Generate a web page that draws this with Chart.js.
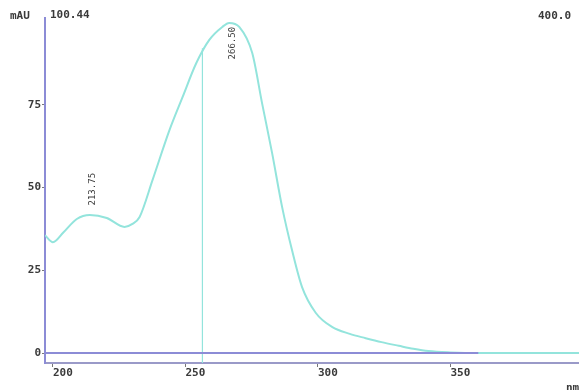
<!DOCTYPE html>
<html>
<head>
<meta charset="utf-8">
<script src="https://cdn.jsdelivr.net/npm/chart.js@4.4.1/dist/chart.umd.min.js"></script>
<style>
  html, body { margin: 0; padding: 0; background: #fff; }
  #wrap { width: 579px; height: 390px; }
</style>
</head>
<body>
<div id="wrap"><canvas id="grafica" width="579" height="390"></canvas></div>
<script>
// espectro UV (nm vs mAU)
const longitudes = [197, 200, 204, 209, 213.9, 220.3, 227, 230, 232.7, 237.6, 244, 248.9, 254.1, 259, 263.9, 266.5, 270.3, 275.2, 278.9, 282.7, 286.5, 290.2, 294, 299.2, 305.3, 312, 318, 324, 330.5, 336, 341.7, 350, 360.5, 380, 398.5];
const absorbancia = [35.6, 33.5, 36.5, 40.5, 41.7, 40.8, 38.1, 39, 41.1, 52.3, 67.4, 77.3, 87.6, 94.6, 98.5, 99.7, 98.5, 90.6, 75.5, 60.4, 44, 31.1, 19.9, 12.1, 7.9, 5.8, 4.5, 3.3, 2.2, 1.3, 0.6, 0.2, 0, 0, 0];

const linea_x = [256.4, 256.4];
const linea_y = [-3, 92.1];

const base_x = [197, 360.5];
const base_y = [0, 0];

const ticksX = [200, 250, 300, 350];
const ticksY = [0, 25, 50, 75];

// nm del pico, texto, y valor donde empieza la etiqueta (arriba)
const picos_nm = [213.75, 266.5];
const picos_texto = ["213.75", "266.50"];
const picos_tope = [54.4, 98.5];

const fuente = "bold 11px 'DejaVu Sans Mono'";
const colorTexto = "#3a3a3a";
const colorEje = "#8c8cd6";
const colorCurva = "#93e4dc";

function puntos(xs, ys) {
  return xs.map((x, i) => ({ x: x, y: ys[i] }));
}

const textosExtra = {
  id: "textosExtra",
  afterDraw(chart) {
    const ctx = chart.ctx;
    const sx = chart.scales.x;
    const sy = chart.scales.y;
    ctx.save();
    ctx.font = fuente;
    ctx.fillStyle = colorTexto;
    ctx.textBaseline = "middle";
    ctx.textAlign = "left";
    ctx.fillText("mAU", 10, 16);
    ctx.fillText("100.44", 50, 15);
    ctx.fillText("400.0", 538, 16);
    ctx.fillText("nm", 566, 388);

    // etiquetas de picos, giradas
    ctx.font = "9px 'DejaVu Sans Mono'";
    picos_nm.forEach((nm, i) => {
      const px = sx.getPixelForValue(nm);
      const py = sy.getPixelForValue(picos_tope[i]);
      ctx.save();
      ctx.translate(px + 3, py);
      ctx.rotate(-Math.PI / 2);
      ctx.textAlign = "right";
      ctx.textBaseline = "middle";
      ctx.fillText(picos_texto[i], 0, 0);
      ctx.restore();
    });
    ctx.restore();
  }
};

const config = {
  type: "scatter",
  data: {
    datasets: [
      {
        label: "base",
        data: puntos(base_x, base_y),
        showLine: true,
        borderColor: colorEje,
        borderWidth: 2,
        pointRadius: 0,
        order: 0
      },
      {
        label: "espectro",
        data: puntos(longitudes, absorbancia),
        showLine: true,
        borderColor: colorCurva,
        borderWidth: 2,
        pointRadius: 0,
        cubicInterpolationMode: "monotone",
        order: 1
      },
      {
        label: "marca",
        data: puntos(linea_x, linea_y),
        showLine: true,
        borderColor: colorCurva,
        borderWidth: 1.2,
        pointRadius: 0,
        order: 2
      }
    ]
  },
  options: {
    responsive: false,
    animation: false,
    layout: { padding: { top: 18, right: 0, left: 0, bottom: 0 } },
    plugins: { legend: { display: false }, tooltip: { enabled: false } },
    scales: {
      x: {
        type: "linear",
        min: 197,
        max: 398.5,
        afterBuildTicks: s => { s.ticks = ticksX.map(v => ({ value: v })); },
        afterFit: s => { s.height = 27; },
        grid: { display: true, drawOnChartArea: false, drawTicks: true, tickLength: 4, color: colorEje, tickColor: "#777" },
        border: { display: true, color: "#9a9ac8", width: 2 },
        ticks: {
          align: "start",
          padding: 0,
          color: colorTexto,
          font: { family: "DejaVu Sans Mono", size: 11, weight: "bold" },
          maxRotation: 0,
          callback: v => String(v)
        }
      },
      y: {
        type: "linear",
        min: -3,
        max: 101.2,
        afterBuildTicks: s => { s.ticks = ticksY.map(v => ({ value: v })); },
        afterFit: s => { s.width = 45; },
        grid: { display: true, drawOnChartArea: false, drawTicks: true, tickLength: 3, tickColor: "#777" },
        border: { display: true, color: colorEje, width: 2 },
        ticks: {
          padding: 1,
          color: colorTexto,
          font: { family: "DejaVu Sans Mono", size: 11, weight: "bold" },
          callback: v => String(v)
        }
      }
    }
  },
  plugins: [textosExtra]
};

const lienzo = document.querySelector("#grafica").getContext("2d");
window.miGrafica = new Chart(lienzo, config);
</script>
</body>
</html>
